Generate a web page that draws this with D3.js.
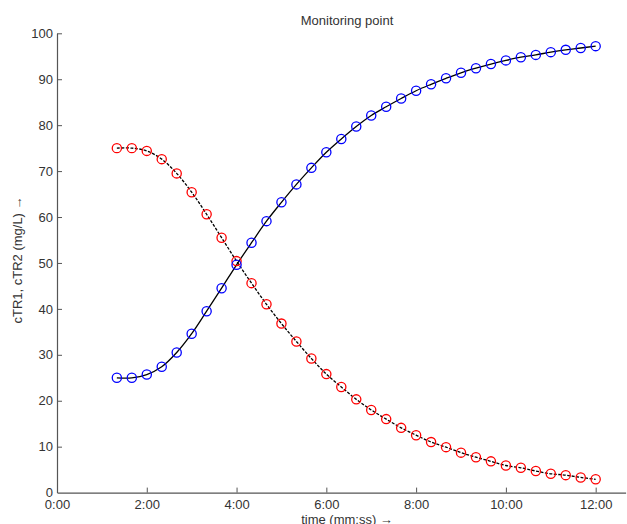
<!DOCTYPE html>
<html>
<head>
<meta charset="utf-8">
<script src="https://cdn.jsdelivr.net/npm/d3@7/dist/d3.min.js"></script>
<style>
  html, body { margin: 0; padding: 0; background: #fff; }
  svg { display: block; }
  text { font-family: "Liberation Sans", Arial, sans-serif; fill: #333; }
</style>
</head>
<body>
<svg id="chart" width="627" height="524"></svg>
<script>
// time in seconds
const times = [80,100,120,140,160,180,200,220,240,260,280,300,320,340,360,380,400,420,440,460,480,500,520,540,560,580,600,620,640,660,680,700,720];
const cTR1 = [25.0,25.0,25.7,27.4,30.5,34.6,39.5,44.5,49.6,54.4,59.1,63.2,67.1,70.7,74.1,77.0,79.7,82.1,84.0,85.8,87.5,88.9,90.2,91.4,92.4,93.3,94.1,94.8,95.3,95.9,96.4,96.8,97.2];
const cTR2 = [75.0,75.0,74.4,72.6,69.5,65.4,60.6,55.5,50.4,45.6,41.0,36.8,32.9,29.2,25.8,23.0,20.3,18.0,16.0,14.1,12.5,11.0,9.9,8.7,7.7,6.8,5.9,5.4,4.7,4.1,3.8,3.3,2.9];
const xTicks = [0,120,240,360,480,600,720];
const yTicks = [0,10,20,30,40,50,60,70,80,90,100];
const title = "Monitoring point";
const xLabel = "time (mm:ss) \u2192";
const yLabel = "cTR1, cTR2 (mg/L) \u2192";

const svg = d3.select("#chart");
const x = d3.scaleLinear().domain([0, 760]).range([57, 625.6]);
const y = d3.scaleLinear().domain([0, 100]).range([492.6, 33.3]);
const fmt = s => Math.floor(s / 60) + ":" + String(s % 60).padStart(2, "0");

// axes
const xAxis = svg.append("g").attr("transform", `translate(0,${y(0)})`)
  .call(d3.axisBottom(x).tickValues(xTicks).tickFormat(fmt).tickSizeInner(-5).tickSizeOuter(0).tickPadding(7));
const yAxis = svg.append("g").attr("transform", `translate(${x(0)},0)`)
  .call(d3.axisLeft(y).tickValues(yTicks).tickSizeInner(-5).tickSizeOuter(0).tickPadding(4));
[xAxis, yAxis].forEach(g => {
  g.select(".domain").attr("stroke", "#555").attr("stroke-width", 1.2);
  g.selectAll(".tick line").attr("stroke", "#555");
  g.selectAll(".tick text").attr("font-size", 13).attr("fill", "#333")
    .style("font-family", '"Liberation Sans", Arial, sans-serif');
});
xAxis.selectAll(".tick").filter(d => d === 0).select("line").remove();
yAxis.selectAll(".tick").filter(d => d === 0).select("line").remove();

// lines
const pts1 = times.map((t, i) => [t, cTR1[i]]);
const pts2 = times.map((t, i) => [t, cTR2[i]]);
const line = d3.line().x(d => x(d[0])).y(d => y(d[1])).curve(d3.curveCatmullRom);

svg.append("path").datum(pts1).attr("d", line)
  .attr("fill", "none").attr("stroke", "#000").attr("stroke-width", 1.3);
svg.append("path").datum(pts2).attr("d", line)
  .attr("fill", "none").attr("stroke", "#000").attr("stroke-width", 1.3)
  .attr("stroke-dasharray", "3,1.5");

// markers
svg.append("g").selectAll("circle").data(pts2).join("circle")
  .attr("cx", d => x(d[0])).attr("cy", d => y(d[1])).attr("r", 4.6)
  .attr("fill", "none").attr("stroke", "#ff0000").attr("stroke-width", 1.3);
svg.append("g").selectAll("circle").data(pts1).join("circle")
  .attr("cx", d => x(d[0])).attr("cy", d => y(d[1])).attr("r", 4.6)
  .attr("fill", "none").attr("stroke", "#0000ff").attr("stroke-width", 1.3);

// labels
svg.append("text").attr("x", 347).attr("y", 24.5).attr("text-anchor", "middle")
  .attr("font-size", 13).text(title);
svg.append("text").attr("x", 347).attr("y", 524).attr("text-anchor", "middle")
  .attr("font-size", 13).text(xLabel);
svg.append("text").attr("transform", "translate(22,260) rotate(-90)")
  .attr("text-anchor", "middle").attr("font-size", 13).text(yLabel);
</script>
</body>
</html>
